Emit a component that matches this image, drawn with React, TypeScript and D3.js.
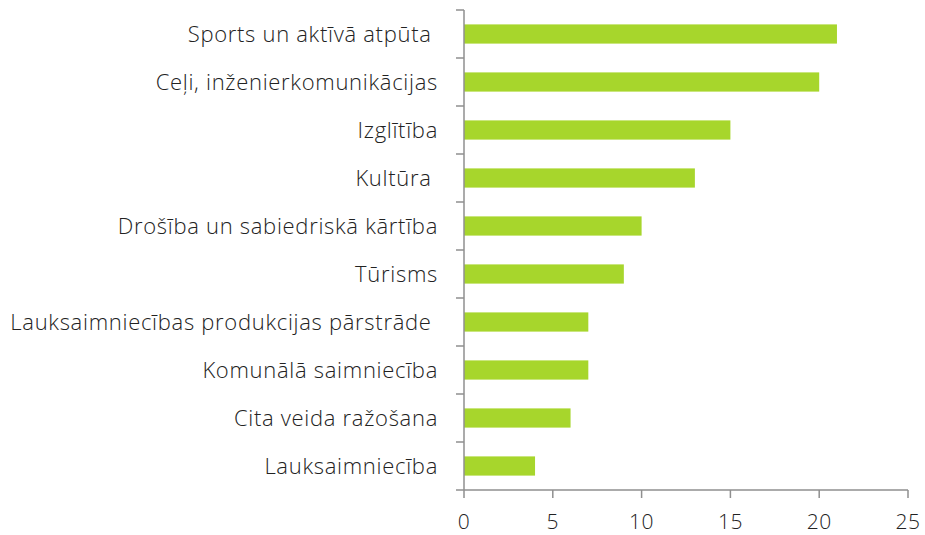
import React from "react";
import * as d3 from "d3";

const categories = [
  "Sports un aktīvā atpūta ",
  "Ceļi, inženierkomunikācijas",
  "Izglītība",
  "Kultūra ",
  "Drošība un sabiedriskā kārtība",
  "Tūrisms",
  "Lauksaimniecības produkcijas pārstrāde ",
  "Komunālā saimniecība",
  "Cita veida ražošana",
  "Lauksaimniecība",
];
const values = [21, 20, 15, 13, 10, 9, 7, 7, 6, 4];
const xTicks = [0, 5, 10, 15, 20, 25];

export default function App() {
  const W = 925, H = 535;
  const left = 464, right = 908, top = 10, bottom = 490;
  const x = d3.scaleLinear().domain([0, 25]).range([left, right]);
  const y = d3.scaleBand<string>().domain(categories).range([top, bottom]).paddingInner(0.6).paddingOuter(0.3);
  const bandStep = (bottom - top) / categories.length;
  const axisColor = "#8f8f8f";
  const font = "'Open Sans', sans-serif";
  return (
    <svg width={W} height={H} style={{ position: "absolute", left: 0, top: 0, background: "#fff" }}>
      {categories.map((c, i) => (
        <rect key={c} x={x(0)} y={y(c)} width={x(values[i]) - x(0)} height={y.bandwidth()} fill="#a7d62c" />
      ))}
      <line x1={left} x2={left} y1={top} y2={bottom} stroke={axisColor} strokeWidth={1.5} />
      {d3.range(categories.length + 1).map((i) => (
        <line key={"yt" + i} x1={left - 8} x2={left} y1={top + i * bandStep} y2={top + i * bandStep} stroke={axisColor} strokeWidth={1.5} />
      ))}
      <line x1={left} x2={right} y1={bottom} y2={bottom} stroke={axisColor} strokeWidth={1.5} />
      {xTicks.map((t) => (
        <g key={"xt" + t}>
          <line x1={x(t)} x2={x(t)} y1={bottom} y2={bottom + 8} stroke={axisColor} strokeWidth={1.5} />
          <text x={x(t)} y={529} textAnchor="middle" fontFamily={font} fontWeight={300} fontSize={21} letterSpacing={0.5} fill="#222">{t}</text>
        </g>
      ))}
      {categories.map((c) => (
        <text key={"l" + c} x={438} y={(y(c) as number) + y.bandwidth() / 2} dy="0.35em" textAnchor="end"
          fontFamily={font} fontWeight={300} fontSize={22} letterSpacing={0.7} fill="#222" style={{ whiteSpace: "pre" }}>{c}</text>
      ))}
    </svg>
  );
}
